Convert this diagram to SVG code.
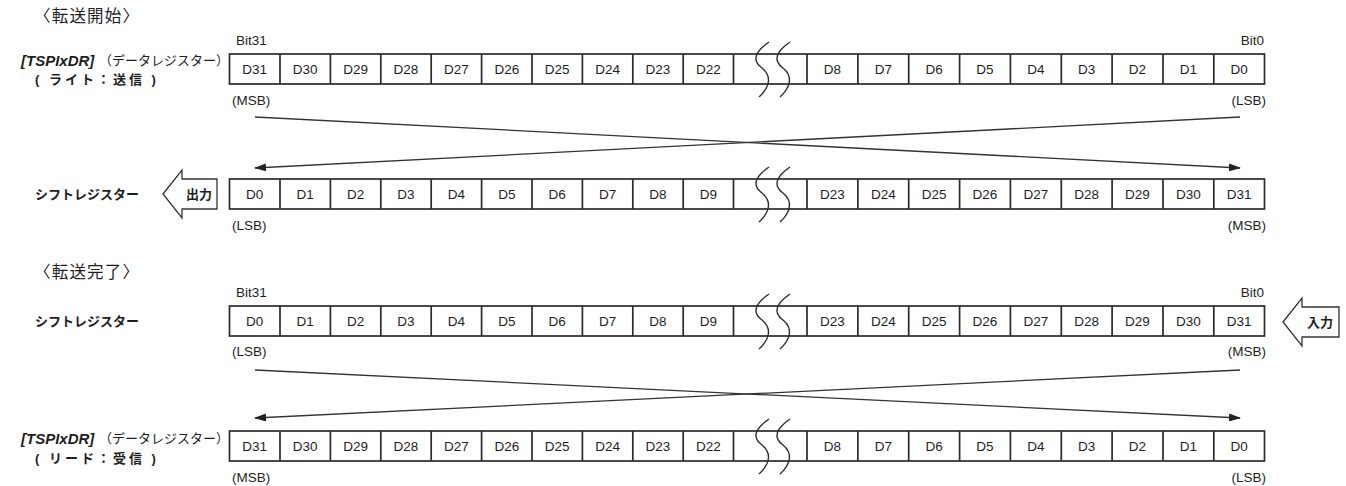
<svg xmlns="http://www.w3.org/2000/svg" width="1346" height="486" viewBox="0 0 1346 486">
  <defs>
    <style>
      .cell { fill: #ffffff; stroke: #2b2b2b; stroke-width: 1.7; }
      .div { stroke: #2b2b2b; stroke-width: 1.7; }
      .lbl { font-family: "Liberation Sans", Arial, sans-serif; font-size: 13.5px; fill: #1e1e1e; text-anchor: middle; }
      .small { font-family: "Liberation Sans", Arial, sans-serif; font-size: 13.5px; fill: #1e1e1e; }
      .jp { font-family: "Liberation Sans", "Noto Sans CJK JP", sans-serif; fill: #1e1e1e; }
      .title { font-size: 16.5px; letter-spacing: 1.2px; }
      .reg { font-size: 15px; font-weight: bold; font-style: italic; }
      .sub { font-size: 13px; }
      .mode { font-size: 13px; font-weight: bold; letter-spacing: 3px; }
      .shift { font-size: 13px; font-weight: bold; }
      .brk { fill: none; stroke: #2b2b2b; stroke-width: 1.4; }
      .xfer { stroke: #333; stroke-width: 1.3; fill: none; marker-end: url(#ah); }
      .big { fill: #ffffff; stroke: #333; stroke-width: 1.3; }
      .bigtxt { font-size: 13px; font-weight: bold; text-anchor: middle; }
    </style>
    <marker id="ah" viewBox="0 0 12 8" refX="11" refY="4" markerWidth="12" markerHeight="8" markerUnits="userSpaceOnUse" orient="auto">
      <path d="M0,0 L12,4 L0,8 z" fill="#222"/>
    </marker>
    <!-- a 32-bit register bar: 10 cells, a broken gap, 9 cells -->
    <g id="bar">
      <rect class="cell" x="229.5" y="0" width="1035" height="30"/>
      <path class="div" d="M280 0V30 M330.4 0V30 M380.8 0V30 M431.2 0V30 M481.6 0V30 M532 0V30 M582.4 0V30 M632.8 0V30 M683.2 0V30 M733.5 0V30 M807 0V30 M857.9 0V30 M908.7 0V30 M959.6 0V30 M1010.4 0V30 M1061.3 0V30 M1112.1 0V30 M1163 0V30 M1213.8 0V30"/>
      <path class="brk" d="M769 -12 C 756 -3, 751 6, 762 14 C 772 22, 770 33, 759 43"/>
      <path class="brk" d="M790 -12 C 777 -3, 772 6, 783 14 C 793 22, 791 33, 780 43"/>
    </g>
  </defs>

  <!-- transfer start -->
  <text class="jp title" x="34" y="22">〈転送開始〉</text>

  <g id="reg-write">
    <use href="#bar" y="54"/>
    <g class="lbl">
      <text x="254.7" y="74">D31</text><text x="305.2" y="74">D30</text><text x="355.6" y="74">D29</text><text x="406" y="74">D28</text><text x="456.4" y="74">D27</text>
      <text x="506.8" y="74">D26</text><text x="557.2" y="74">D25</text><text x="607.6" y="74">D24</text><text x="658" y="74">D23</text><text x="708.4" y="74">D22</text>
      <text x="832.4" y="74">D8</text><text x="883.3" y="74">D7</text><text x="934.1" y="74">D6</text><text x="985" y="74">D5</text><text x="1035.8" y="74">D4</text>
      <text x="1086.7" y="74">D3</text><text x="1137.5" y="74">D2</text><text x="1188.4" y="74">D1</text><text x="1239.2" y="74">D0</text>
    </g>
    <text class="small" x="236" y="45">Bit31</text>
    <text class="small" x="1264" y="45" text-anchor="end">Bit0</text>
    <text class="small" x="232" y="105">(MSB)</text>
    <text class="small" x="1266" y="105" text-anchor="end">(LSB)</text>
    <text class="jp reg" x="21" y="66">[TSPIxDR]</text>
    <text class="jp sub" x="99" y="65">（データレジスター）</text>
    <text class="jp mode" x="35" y="84">( ライト：送信 )</text>
  </g>

  <g id="shift-out">
    <use href="#bar" y="179"/>
    <g class="lbl">
      <text x="254.7" y="199">D0</text><text x="305.2" y="199">D1</text><text x="355.6" y="199">D2</text><text x="406" y="199">D3</text><text x="456.4" y="199">D4</text>
      <text x="506.8" y="199">D5</text><text x="557.2" y="199">D6</text><text x="607.6" y="199">D7</text><text x="658" y="199">D8</text><text x="708.4" y="199">D9</text>
      <text x="832.4" y="199">D23</text><text x="883.3" y="199">D24</text><text x="934.1" y="199">D25</text><text x="985" y="199">D26</text><text x="1035.8" y="199">D27</text>
      <text x="1086.7" y="199">D28</text><text x="1137.5" y="199">D29</text><text x="1188.4" y="199">D30</text><text x="1239.2" y="199">D31</text>
    </g>
    <text class="small" x="232" y="230">(LSB)</text>
    <text class="small" x="1266" y="230" text-anchor="end">(MSB)</text>
    <text class="jp shift" x="35" y="199">シフトレジスター</text>
  </g>

  <g id="out-arrow">
    <polygon class="big" points="163,194 182,170 182,179 217,179 217,209 182,209 182,218"/>
    <text class="jp bigtxt" x="199" y="199">出力</text>
  </g>

  <g id="connectors-top">
    <line class="xfer" x1="255" y1="117" x2="1240" y2="168"/>
    <line class="xfer" x1="1240" y1="117" x2="255" y2="168"/>
  </g>

  <!-- transfer complete -->
  <text class="jp title" x="34" y="278">〈転送完了〉</text>

  <g id="shift-in">
    <use href="#bar" y="306"/>
    <g class="lbl">
      <text x="254.7" y="326">D0</text><text x="305.2" y="326">D1</text><text x="355.6" y="326">D2</text><text x="406" y="326">D3</text><text x="456.4" y="326">D4</text>
      <text x="506.8" y="326">D5</text><text x="557.2" y="326">D6</text><text x="607.6" y="326">D7</text><text x="658" y="326">D8</text><text x="708.4" y="326">D9</text>
      <text x="832.4" y="326">D23</text><text x="883.3" y="326">D24</text><text x="934.1" y="326">D25</text><text x="985" y="326">D26</text><text x="1035.8" y="326">D27</text>
      <text x="1086.7" y="326">D28</text><text x="1137.5" y="326">D29</text><text x="1188.4" y="326">D30</text><text x="1239.2" y="326">D31</text>
    </g>
    <text class="small" x="236" y="297">Bit31</text>
    <text class="small" x="1264" y="297" text-anchor="end">Bit0</text>
    <text class="small" x="232" y="356">(LSB)</text>
    <text class="small" x="1266" y="356" text-anchor="end">(MSB)</text>
    <text class="jp shift" x="35" y="326">シフトレジスター</text>
  </g>

  <g id="in-arrow">
    <polygon class="big" points="1283,322 1302,298 1302,307 1339,307 1339,337 1302,337 1302,346"/>
    <text class="jp bigtxt" x="1320" y="327">入力</text>
  </g>

  <g id="connectors-bottom">
    <line class="xfer" x1="255" y1="370" x2="1240" y2="418"/>
    <line class="xfer" x1="1240" y1="370" x2="255" y2="418"/>
  </g>

  <g id="reg-read">
    <use href="#bar" y="431"/>
    <g class="lbl">
      <text x="254.7" y="451">D31</text><text x="305.2" y="451">D30</text><text x="355.6" y="451">D29</text><text x="406" y="451">D28</text><text x="456.4" y="451">D27</text>
      <text x="506.8" y="451">D26</text><text x="557.2" y="451">D25</text><text x="607.6" y="451">D24</text><text x="658" y="451">D23</text><text x="708.4" y="451">D22</text>
      <text x="832.4" y="451">D8</text><text x="883.3" y="451">D7</text><text x="934.1" y="451">D6</text><text x="985" y="451">D5</text><text x="1035.8" y="451">D4</text>
      <text x="1086.7" y="451">D3</text><text x="1137.5" y="451">D2</text><text x="1188.4" y="451">D1</text><text x="1239.2" y="451">D0</text>
    </g>
    <text class="small" x="232" y="482">(MSB)</text>
    <text class="small" x="1266" y="482" text-anchor="end">(LSB)</text>
    <text class="jp reg" x="21" y="444">[TSPIxDR]</text>
    <text class="jp sub" x="99" y="443">（データレジスター）</text>
    <text class="jp mode" x="35" y="463">( リード：受信 )</text>
  </g>
</svg>
